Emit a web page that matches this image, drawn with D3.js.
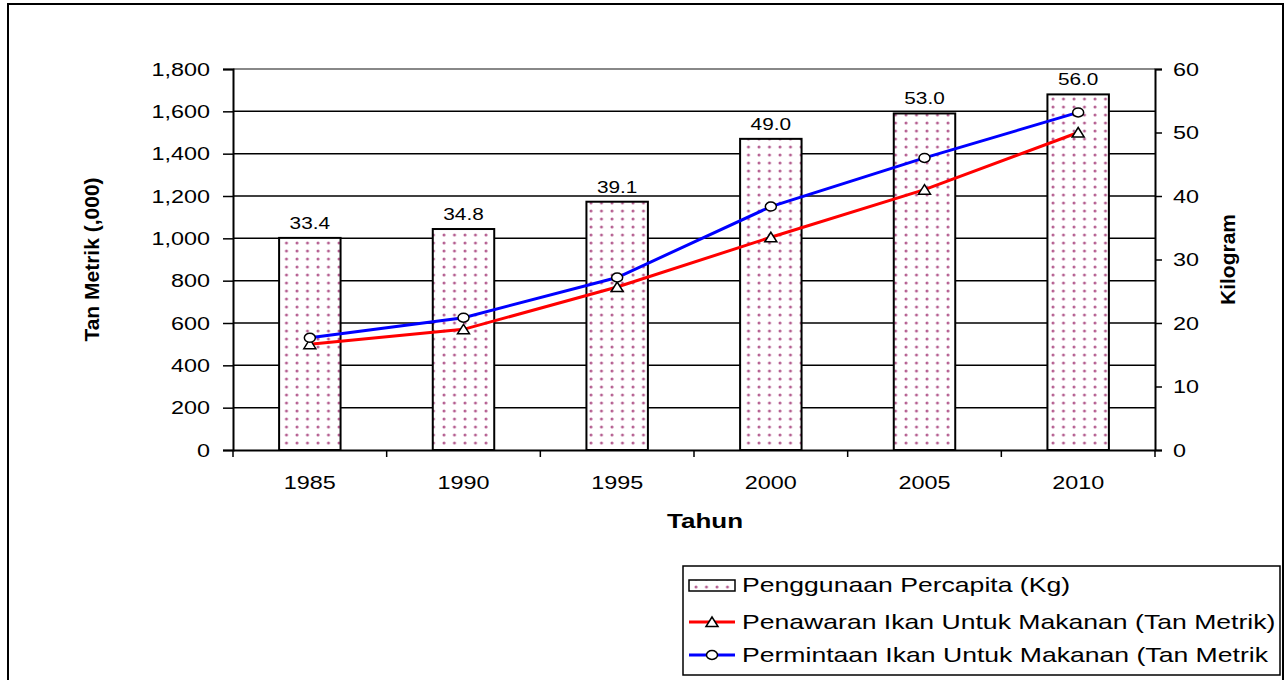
<!DOCTYPE html>
<html>
<head>
<meta charset="utf-8">
<script src="https://cdn.jsdelivr.net/npm/d3@7"></script>
<style>
  body { margin: 0; background: #fff; }
  svg { display: block; font-family: "Liberation Sans", Arial, sans-serif; }
</style>
</head>
<body>
<div id="chart"></div>
<script>
const years = ["1985", "1990", "1995", "2000", "2005", "2010"];
const perCapita = [33.4, 34.8, 39.1, 49.0, 53.0, 56.0];
const supply = [500, 570, 770, 1005, 1230, 1500];
const demand = [530, 625, 815, 1150, 1380, 1595];
const leftTicks = [0, 200, 400, 600, 800, 1000, 1200, 1400, 1600, 1800];
const rightTicks = [0, 10, 20, 30, 40, 50, 60];
const legendLabels = [
  "Penggunaan Percapita (Kg)",
  "Penawaran Ikan Untuk Makanan (Tan Metrik)",
  "Permintaan Ikan Untuk Makanan (Tan Metrik"
];

const width = 1285, height = 680;
const margins = {top: 69, right: 130, bottom: 230, left: 233};
const sx = 1.3; // horizontal text stretch seen in the picture

const svg = d3.select("#chart")
  .append("svg")
  .attr("width", width)
  .attr("height", height);

const defs = svg.append("defs");
const pat = defs.append("pattern")
  .attr("id", "dots")
  .attr("patternUnits", "userSpaceOnUse")
  .attr("width", 10.5)
  .attr("height", 8);
pat.append("rect").attr("width", 10.5).attr("height", 8).attr("fill", "#fff");
pat.append("circle").attr("cx", 3).attr("cy", 3).attr("r", 1.5)
  .attr("fill", "#a8437e").attr("opacity", 0.85);

// outer frame
svg.append("rect")
  .attr("x", 8).attr("y", 4)
  .attr("width", 1275).attr("height", 700)
  .attr("fill", "none").attr("stroke", "#000").attr("stroke-width", 2);

const xScale = d3.scaleBand()
  .domain(years)
  .range([margins.left, width - margins.right])
  .paddingInner(0).paddingOuter(0);

const yLeft = d3.scaleLinear()
  .domain([0, 1800])
  .range([height - margins.bottom, margins.top]);

const yRight = d3.scaleLinear()
  .domain([0, 60])
  .range([height - margins.bottom, margins.top]);

// gridlines
svg.append("g")
  .selectAll("line")
  .data(leftTicks.filter(d => d > 0))
  .join("line")
    .attr("x1", margins.left)
    .attr("x2", width - margins.right)
    .attr("y1", d => yLeft(d))
    .attr("y2", d => yLeft(d))
    .attr("stroke", d => d === 1800 ? "#888" : "#000")
    .attr("stroke-width", d => d === 1800 ? 2 : 1.5);

// bars
const barW = xScale.bandwidth() * 0.4;
const data = years.map((y, i) => ({year: y, kg: perCapita[i], supply: supply[i], demand: demand[i]}));

svg.append("g")
  .selectAll("rect")
  .data(data)
  .join("rect")
    .attr("x", d => xScale(d.year) + xScale.bandwidth() / 2 - barW / 2)
    .attr("y", d => yRight(d.kg))
    .attr("width", barW)
    .attr("height", d => yRight(0) - yRight(d.kg))
    .attr("fill", "url(#dots)")
    .attr("stroke", "#000")
    .attr("stroke-width", 2);

// bar value labels
svg.append("g")
  .selectAll("text")
  .data(data)
  .join("text")
    .attr("transform", d => `translate(${xScale(d.year) + xScale.bandwidth() / 2},${yRight(d.kg) - 9}) scale(${sx},1)`)
    .attr("text-anchor", "middle")
    .style("font-size", "16px")
    .text(d => d.kg.toFixed(1));

// axes
const leftAxis = d3.axisLeft(yLeft)
  .tickValues(leftTicks)
  .tickSize(10)
  .tickFormat(d3.format(","));

svg.append("g")
  .attr("transform", `translate(${margins.left},0)`)
  .call(leftAxis)
  .call(g => g.select(".domain").attr("stroke-width", 2))
  .call(g => g.selectAll(".tick line").attr("stroke-width", 1.5))
  .call(g => g.selectAll(".tick text")
    .attr("x", null).attr("dy", null)
    .attr("transform", `translate(-23,6) scale(${sx},1)`)
    .attr("fill", "#000")
    .style("font-size", "18px")
    .style("font-family", "Liberation Sans, Arial, sans-serif"));

const rightAxis = d3.axisRight(yRight)
  .tickValues(rightTicks)
  .tickSize(7);

svg.append("g")
  .attr("transform", `translate(${width - margins.right},0)`)
  .call(rightAxis)
  .call(g => g.select(".domain").attr("stroke-width", 2))
  .call(g => g.selectAll(".tick line").attr("stroke-width", 1.5))
  .call(g => g.selectAll(".tick text")
    .attr("x", null).attr("dy", null)
    .attr("transform", `translate(18,6) scale(${sx},1)`)
    .attr("fill", "#000")
    .style("font-size", "18px")
    .style("font-family", "Liberation Sans, Arial, sans-serif"));

const xAxis = d3.axisBottom(xScale).tickSize(0).tickSizeOuter(0);

svg.append("g")
  .attr("transform", `translate(0,${height - margins.bottom})`)
  .call(xAxis)
  .call(g => g.select(".domain").attr("stroke-width", 2))
  .call(g => g.selectAll(".tick text")
    .attr("y", null).attr("dy", null)
    .attr("transform", `translate(0,39) scale(${sx},1)`)
    .attr("fill", "#000")
    .style("font-size", "18px")
    .style("font-family", "Liberation Sans, Arial, sans-serif"));

// category boundary ticks
const bounds = years.map(d => xScale(d)).concat([xScale(years[years.length - 1]) + xScale.bandwidth()]);
svg.append("g")
  .selectAll("line")
  .data(bounds)
  .join("line")
    .attr("x1", d => d).attr("x2", d => d)
    .attr("y1", yLeft(0)).attr("y2", yLeft(0) + 7)
    .attr("stroke", "#000").attr("stroke-width", 1.5);

// lines
const lineSupply = d3.line()
  .x(d => xScale(d.year) + xScale.bandwidth() / 2)
  .y(d => yLeft(d.supply));
const lineDemand = d3.line()
  .x(d => xScale(d.year) + xScale.bandwidth() / 2)
  .y(d => yLeft(d.demand));

svg.append("path")
  .attr("d", lineSupply(data))
  .attr("fill", "none").attr("stroke", "#ff0000").attr("stroke-width", 3);
svg.append("path")
  .attr("d", lineDemand(data))
  .attr("fill", "none").attr("stroke", "#0000ff").attr("stroke-width", 3);

const triangle = "M0,-5L6,4.5L-6,4.5Z";

svg.append("g")
  .selectAll("path")
  .data(data)
  .join("path")
    .attr("transform", d => `translate(${xScale(d.year) + xScale.bandwidth() / 2},${yLeft(d.supply)})`)
    .attr("d", triangle)
    .attr("fill", "#fff").attr("stroke", "#000").attr("stroke-width", 1.5);

svg.append("g")
  .selectAll("ellipse")
  .data(data)
  .join("ellipse")
    .attr("cx", d => xScale(d.year) + xScale.bandwidth() / 2)
    .attr("cy", d => yLeft(d.demand))
    .attr("rx", 5.5).attr("ry", 4.5)
    .attr("fill", "#fff").attr("stroke", "#000").attr("stroke-width", 1.5);

// axis titles
svg.append("text")
  .attr("transform", `translate(99,${(yLeft(0) + yLeft(1800)) / 2}) rotate(-90)`)
  .attr("text-anchor", "middle")
  .style("font-size", "21px")
  .style("font-weight", "bold")
  .text("Tan Metrik (,000)");

svg.append("text")
  .attr("transform", `translate(1235,${(yLeft(0) + yLeft(1800)) / 2}) rotate(-90)`)
  .attr("text-anchor", "middle")
  .style("font-size", "21px")
  .style("font-weight", "bold")
  .text("Kilogram");

svg.append("text")
  .attr("transform", `translate(705,528) scale(1.3,1)`)
  .attr("text-anchor", "middle")
  .style("font-size", "20px")
  .style("font-weight", "bold")
  .text("Tahun");

// legend
const legend = svg.append("g");
legend.append("rect")
  .attr("x", 683).attr("y", 566)
  .attr("width", 597).attr("height", 109)
  .attr("fill", "#fff").attr("stroke", "#000").attr("stroke-width", 1.5);

const rowY = [585, 622, 655];
legend.append("rect")
  .attr("x", 689).attr("y", rowY[0] - 5)
  .attr("width", 46).attr("height", 11)
  .attr("fill", "url(#dots)").attr("stroke", "#000").attr("stroke-width", 1.5);

legend.append("line")
  .attr("x1", 689).attr("x2", 735)
  .attr("y1", rowY[1]).attr("y2", rowY[1])
  .attr("stroke", "#ff0000").attr("stroke-width", 3);
legend.append("path")
  .attr("transform", `translate(712,${rowY[1]})`)
  .attr("d", triangle)
  .attr("fill", "#fff").attr("stroke", "#000").attr("stroke-width", 1.5);

legend.append("line")
  .attr("x1", 689).attr("x2", 735)
  .attr("y1", rowY[2]).attr("y2", rowY[2])
  .attr("stroke", "#0000ff").attr("stroke-width", 3);
legend.append("ellipse")
  .attr("cx", 712).attr("cy", rowY[2])
  .attr("rx", 5.5).attr("ry", 4.5)
  .attr("fill", "#fff").attr("stroke", "#000").attr("stroke-width", 1.5);

legend.selectAll("text")
  .data(legendLabels)
  .join("text")
    .attr("transform", (d, i) => `translate(742,${rowY[i] + 7}) scale(1.33,1)`)
    .style("font-size", "20px")
    .text(d => d);
</script>
</body>
</html>
